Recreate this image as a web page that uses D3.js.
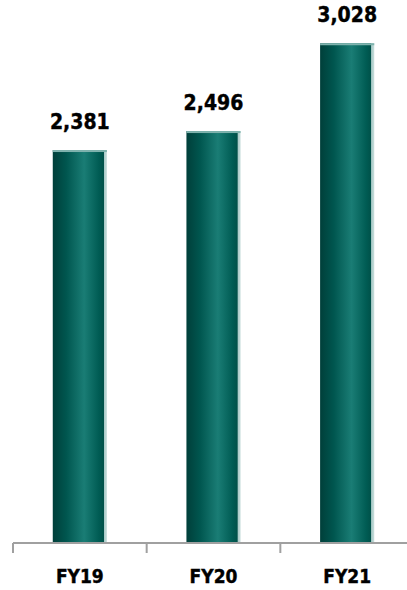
<!DOCTYPE html>
<html>
<head>
<meta charset="utf-8">
<script src="https://d3js.org/d3.v7.min.js"></script>
<style>
body { margin: 0; background: #fff; }
.value-label { font-family: "DejaVu Sans Condensed", "DejaVu Sans", sans-serif; font-weight: bold; font-size: 21px; fill: #000; stroke: #000; stroke-width: 0.4px; }
.axis text { font-family: "DejaVu Sans Condensed", "DejaVu Sans", sans-serif; font-weight: bold; font-size: 19px; fill: #000; stroke: #000; stroke-width: 0.4px; }
.axis path, .axis line { stroke: #a0a0a0; stroke-width: 2px; }
</style>
</head>
<body>
<svg width="407" height="590"></svg>
<script>
var categories = ['FY19', 'FY20', 'FY21'];
var values = [2381, 2496, 3028];
var valueLabels = ['2,381', '2,496', '3,028'];

var svg = d3.select('svg');
var baseY = 543;

//Bands run from the left tick off past the right edge.
var xScale = d3.scaleBand()
	.domain(categories)
	.range([13, 414])
	.paddingInner(0.595)
	.paddingOuter(0.2975);
var yScale = d3.scaleLinear()
	.domain([0, 3290])
	.range([baseY, 0]);

//Cylinder-like shading across each bar.
var defs = svg.append('defs');
var grad = defs.append('linearGradient')
	.attr('id', 'barGrad')
	.attr('x1', '0%').attr('x2', '100%').attr('y1', '0%').attr('y2', '0%');
grad.append('stop').attr('offset', '0%').attr('stop-color', '#003f3a');
grad.append('stop').attr('offset', '25%').attr('stop-color', '#00564f');
grad.append('stop').attr('offset', '58%').attr('stop-color', '#1a7d75');
grad.append('stop').attr('offset', '85%').attr('stop-color', '#005c54');
grad.append('stop').attr('offset', '94%').attr('stop-color', '#005149');
grad.append('stop').attr('offset', '95%').attr('stop-color', '#a8cac7');
grad.append('stop').attr('offset', '100%').attr('stop-color', '#c9dedc');

var bars = svg.append('g');
bars.selectAll('rect.bar')
	.data(values)
	.enter().append('rect')
	.attr('class', 'bar')
	.attr('x', function(d, i) { return xScale(categories[i]); })
	.attr('y', function(d) { return yScale(d); })
	.attr('width', xScale.bandwidth())
	.attr('height', function(d) { return baseY - yScale(d); })
	.attr('fill', 'url(#barGrad)');
//Light rim on the top of each bar.
bars.selectAll('rect.rim')
	.data(values)
	.enter().append('rect')
	.attr('class', 'rim')
	.attr('x', function(d, i) { return xScale(categories[i]); })
	.attr('y', function(d) { return yScale(d); })
	.attr('width', xScale.bandwidth())
	.attr('height', 2)
	.attr('fill', '#7fb3ae');

//Value labels.
svg.append('g').selectAll('text')
	.data(values)
	.enter().append('text')
	.attr('class', 'value-label')
	.attr('text-anchor', 'middle')
	.attr('x', function(d, i) { return xScale(categories[i]) + xScale.bandwidth() / 2; })
	.attr('y', function(d) { return yScale(d) - 21; })
	.text(function(d, i) { return valueLabels[i]; });

//Category axis with ticks between bands.
var axis = svg.append('g')
	.attr('class', 'axis')
	.attr('transform', 'translate(0,' + baseY + ')')
	.call(d3.axisBottom(xScale).tickSize(0).tickSizeOuter(0).tickPadding(27));
axis.select('.domain').attr('d', 'M13,0H414');
var step = xScale.step();
axis.selectAll('line.sep')
	.data(d3.range(categories.length + 1))
	.enter().append('line')
	.attr('class', 'sep')
	.attr('x1', function(i) { return 13 + i * step; })
	.attr('x2', function(i) { return 13 + i * step; })
	.attr('y1', 0)
	.attr('y2', 10);
</script>
</body>
</html>
